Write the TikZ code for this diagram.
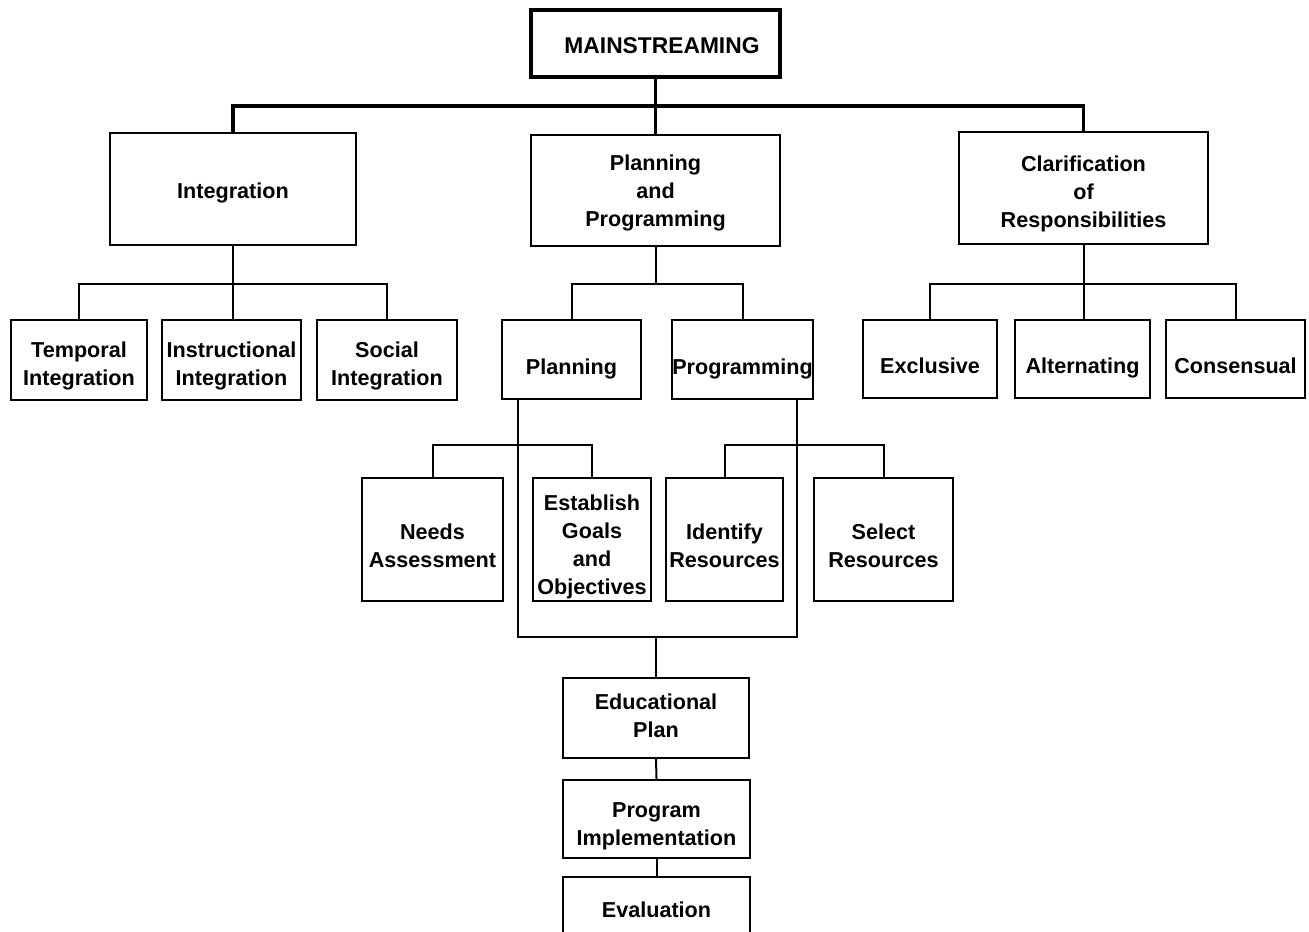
\documentclass[tikz,border=0pt]{standalone}
\usepackage{fontspec}
\setmainfont{Liberation Sans}
\begin{document}
\begin{tikzpicture}[x={(0.5pt,0pt)},y={(0pt,-0.5pt)},
  box/.style={draw,line width=1pt,inner sep=0pt},
  txt/.style={inner sep=0pt,align=center,
    font=\bfseries\fontsize{10.8}{14}\selectfont},
  conn/.style={line width=1pt},
  topconn/.style={line width=1.6pt}]
% \bx[box options]{name}{cx}{cy}{width pt}{height pt}{text y}{text}
\newcommand{\bx}[8][]{%
  \node[box,#1,minimum width=#5pt,minimum height=#6pt] (#2) at (#3,#4) {};
  \node[txt] (#2-t) at (#3,#7) {#8};}
\useasboundingbox (0,0) rectangle (1309,931);
\clip (0,0) rectangle (1309,931);
\fill[white] (0,0) rectangle (1309,931);
% top
\node[box,line width=1.7pt,minimum width=124.5pt,minimum height=33.5pt] (main) at (655.5,43.5) {};
\node[txt,font=\bfseries\fontsize{11.4}{14}\selectfont] (main-t) at (662,45.5) {MAINSTREAMING};
\bx[line width=1.2pt]{integ}{233}{189}{123}{56}{193}{Integration}
\bx[line width=1.2pt]{pp}{655.5}{190.5}{124.5}{55.5}{193}{\fontsize{10.8}{14.75}\selectfont Planning\\and\\Programming}
\bx[line width=1.2pt]{clar}{1083.5}{188}{124.5}{56}{194}{\fontsize{10.8}{14.75}\selectfont Clarification\\of\\Responsibilities}
% level 3
\bx{temporal}{79}{360}{68}{40}{366}{Temporal\\Integration}
\bx{instr}{231.5}{360}{69.5}{40}{366}{Instructional\\Integration}
\bx{social}{387}{360}{70}{40}{366}{Social\\Integration}
\bx{planning}{571.5}{359.5}{69.5}{39.5}{368.5}{Planning}
\bx{programming}{742.5}{359.5}{70.5}{39.5}{368.5}{Programming}
\bx{exclusive}{930}{359}{67}{39}{366}{Exclusive}
\bx{alternating}{1082.5}{359}{67.5}{39}{368}{Alternating}
\bx{consensual}{1235.5}{359}{69.5}{39}{366}{Consensual}
% level 4
\bx{needs}{432.5}{539.5}{70.5}{61.5}{546}{Needs\\Assessment}
\bx{establish}{592}{539.5}{59}{61.5}{546.5}{\fontsize{10.8}{13.6}\selectfont Establish\\Goals\\and\\Objectives}
\bx{identify}{724.5}{539.5}{58.5}{61.5}{546}{Identify\\Resources}
\bx{select}{883.5}{539.5}{69.5}{61.5}{546}{Select\\Resources}
% bottom chain
\bx{edu}{656}{718}{93}{40}{716}{Educational\\Plan}
\bx{impl}{656.5}{819}{93.5}{39}{826}{Program\\Implementation}
\bx{eval}{656.5}{910}{93.5}{33}{910}{Evaluation}
% coordinates
\coordinate (tb) at (655.5,106);
\coordinate (ib) at (233,284);
\coordinate (pb) at (655.5,284);
\coordinate (cb) at (1083.5,284);
\coordinate (pl) at (518,637);
\coordinate (pr) at (797,637);
\coordinate (pcb) at (518,445);
\coordinate (gcb) at (797,445);
% top connectors
\draw[topconn] (main.south) -- (tb);
\draw[topconn] (integ.north) |- (tb) -| (clar.north);
\draw[topconn] (tb) -- (pp.north);
% integration
\draw[conn] (integ.south) -- (integ.south |- instr.north);
\draw[conn] (temporal.north) |- (ib) -| (social.north);
% clarification
\draw[conn] (clar.south) -- (clar.south |- alternating.north);
\draw[conn] (exclusive.north) |- (cb) -| (consensual.north);
% planning and programming
\draw[conn] (pp.south) -- (pb);
\draw[conn] (planning.north) |- (pb) -| (programming.north);
\draw[conn] (planning.south -| pl) -- (pl) -- (pr) -- (programming.south -| pr);
\draw[conn] (needs.north) |- (pcb) -| (establish.north);
\draw[conn] (identify.north) |- (gcb) -| (select.north);
\draw[conn] (edu.north) -- (edu.north |- pl);
\draw[conn] (edu.south) -- (impl.north);
\draw[conn] (impl.south) -- (eval.north);
\end{tikzpicture}
\end{document}
